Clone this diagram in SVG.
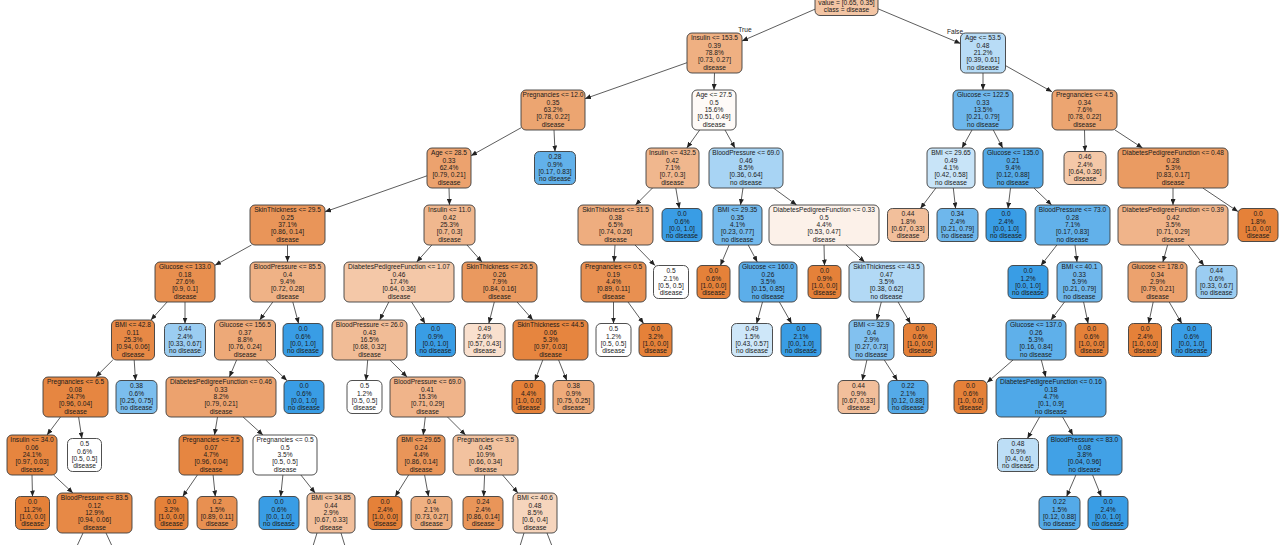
<svg xmlns="http://www.w3.org/2000/svg" width="1280" height="545" viewBox="0 0 1280 545">
<style>
text{font-family:"Liberation Sans",Arial,sans-serif;font-size:6.6px;fill:#1a1a1a;text-anchor:middle}
.nd rect{stroke:#3c3c3c;stroke-width:0.9;rx:5px;ry:5px}
#edges line{stroke:#333;stroke-width:0.8;marker-end:url(#ah)}
#edges line.stub{marker-end:none}
.lbl{font-size:6.6px}
</style>
<defs>
<marker id="ah" markerWidth="6" markerHeight="5" refX="6" refY="2.5" orient="auto" markerUnits="userSpaceOnUse"><path d="M0,0L6,2.5L0,5z" fill="#222"/></marker>
</defs>
<rect width="1280" height="545" fill="#fff"/>
<g id="edges">
<line x1="815" y1="9.2" x2="742" y2="41"/>
<line x1="878" y1="8.8" x2="960.5" y2="43.5"/>
<line x1="687" y1="62.7" x2="585" y2="98.7"/>
<line x1="714.5" y1="73" x2="714" y2="90"/>
<line x1="983" y1="73" x2="983" y2="90"/>
<line x1="1005.5" y1="65.6" x2="1052" y2="91.8"/>
<line x1="521" y1="127.8" x2="471" y2="155.7"/>
<line x1="554" y1="130" x2="555" y2="151.5"/>
<line x1="699.7" y1="130" x2="686.8" y2="148"/>
<line x1="725" y1="130" x2="735" y2="148"/>
<line x1="972" y1="130" x2="962" y2="148"/>
<line x1="993.3" y1="130" x2="1002.7" y2="148"/>
<line x1="1084.5" y1="130" x2="1085" y2="151.5"/>
<line x1="1115" y1="130" x2="1142.5" y2="148"/>
<line x1="427" y1="175.8" x2="325" y2="211.8"/>
<line x1="449" y1="188" x2="449.5" y2="205"/>
<line x1="652.5" y1="188" x2="635.5" y2="205"/>
<line x1="675.8" y1="188" x2="679.3" y2="208.5"/>
<line x1="743" y1="188" x2="740.5" y2="205"/>
<line x1="773.4" y1="188" x2="796.6" y2="205"/>
<line x1="935.9" y1="188" x2="920.4" y2="208.5"/>
<line x1="953.3" y1="188" x2="955.6" y2="208.5"/>
<line x1="1010.5" y1="188" x2="1008" y2="208.5"/>
<line x1="1033.9" y1="188" x2="1051.6" y2="205"/>
<line x1="1173" y1="188" x2="1173" y2="205"/>
<line x1="1202.8" y1="188" x2="1238" y2="211.6"/>
<line x1="251.5" y1="245" x2="215" y2="265.3"/>
<line x1="287.5" y1="245" x2="287.5" y2="262"/>
<line x1="431.8" y1="245" x2="416.7" y2="262"/>
<line x1="467" y1="245" x2="482" y2="262"/>
<line x1="615" y1="245" x2="614" y2="262"/>
<line x1="635" y1="245" x2="655" y2="265.5"/>
<line x1="729.1" y1="245" x2="720.4" y2="265.5"/>
<line x1="748.2" y1="245" x2="757.3" y2="262"/>
<line x1="824" y1="245" x2="824.5" y2="265.5"/>
<line x1="845.9" y1="245" x2="864.6" y2="262"/>
<line x1="1056.9" y1="245" x2="1040.9" y2="265.5"/>
<line x1="1075" y1="245" x2="1077" y2="262"/>
<line x1="1167.6" y1="245" x2="1162.9" y2="262"/>
<line x1="1188.3" y1="245" x2="1203.9" y2="265.5"/>
<line x1="167.1" y1="302" x2="150.9" y2="320"/>
<line x1="185" y1="302" x2="185" y2="323.5"/>
<line x1="272.8" y1="302" x2="259.7" y2="320"/>
<line x1="292.8" y1="302" x2="298.6" y2="323.5"/>
<line x1="388.8" y1="302" x2="379.7" y2="320"/>
<line x1="411.6" y1="302" x2="425.1" y2="323.5"/>
<line x1="494.3" y1="302" x2="488.8" y2="323.5"/>
<line x1="517.1" y1="302" x2="532.9" y2="320"/>
<line x1="613.5" y1="302" x2="613.5" y2="323.5"/>
<line x1="628" y1="302" x2="643.6" y2="323.5"/>
<line x1="762.5" y1="302" x2="756.6" y2="323.5"/>
<line x1="779.4" y1="302" x2="791.6" y2="323.5"/>
<line x1="881.3" y1="302" x2="876.7" y2="320"/>
<line x1="898.1" y1="302" x2="910.5" y2="323.5"/>
<line x1="1064.5" y1="302" x2="1051" y2="320"/>
<line x1="1083.6" y1="302" x2="1088.1" y2="323.5"/>
<line x1="1153.2" y1="302" x2="1148.6" y2="323.5"/>
<line x1="1169.2" y1="302" x2="1181.8" y2="323.5"/>
<line x1="112.8" y1="360" x2="95.7" y2="377"/>
<line x1="134.2" y1="360" x2="135.5" y2="380.5"/>
<line x1="236.6" y1="360" x2="229.4" y2="377"/>
<line x1="265.7" y1="360" x2="286.9" y2="380.5"/>
<line x1="367.7" y1="360" x2="366" y2="380.5"/>
<line x1="389.9" y1="360" x2="407.1" y2="377"/>
<line x1="542.8" y1="360" x2="534.9" y2="380.5"/>
<line x1="558.6" y1="360" x2="566.8" y2="380.5"/>
<line x1="866.9" y1="360" x2="862.3" y2="380.5"/>
<line x1="884.3" y1="360" x2="897.4" y2="380.5"/>
<line x1="1013" y1="360" x2="987" y2="382.6"/>
<line x1="1041.3" y1="360" x2="1045.7" y2="377"/>
<line x1="60.5" y1="417" x2="47" y2="435"/>
<line x1="78.6" y1="417" x2="81.9" y2="438.5"/>
<line x1="217.5" y1="417" x2="214.5" y2="435"/>
<line x1="243.1" y1="417" x2="262.9" y2="435"/>
<line x1="425.3" y1="417" x2="423.2" y2="435"/>
<line x1="447.5" y1="417" x2="465.5" y2="435"/>
<line x1="1039.6" y1="417" x2="1027.4" y2="438.5"/>
<line x1="1062.6" y1="417" x2="1072.9" y2="435"/>
<line x1="32" y1="475" x2="32.5" y2="496.5"/>
<line x1="53.6" y1="475" x2="72.9" y2="493"/>
<line x1="197.4" y1="475" x2="182.7" y2="496.5"/>
<line x1="213.1" y1="475" x2="215.3" y2="496.5"/>
<line x1="282.9" y1="475" x2="280.7" y2="496.5"/>
<line x1="300.9" y1="475" x2="315.1" y2="493"/>
<line x1="408.6" y1="475" x2="395.2" y2="496.5"/>
<line x1="424.6" y1="475" x2="428.5" y2="496.5"/>
<line x1="484.6" y1="475" x2="483.7" y2="496.5"/>
<line x1="502.6" y1="475" x2="517.9" y2="493"/>
<line x1="1075.9" y1="475" x2="1066.6" y2="496.5"/>
<line x1="1092.6" y1="475" x2="1101.3" y2="496.5"/>
<line class="stub" x1="83" y1="533" x2="77" y2="546"/>
<line class="stub" x1="106" y1="533" x2="112" y2="546"/>
<line class="stub" x1="317" y1="533" x2="313" y2="546"/>
<line class="stub" x1="341" y1="533" x2="345" y2="546"/>
<line class="stub" x1="524" y1="533" x2="520" y2="546"/>
<line class="stub" x1="547" y1="533" x2="552" y2="546"/>
<text class="lbl" x="745" y="31.5">True</text>
<text class="lbl" x="955" y="34">False</text>
</g>
<g id="n0" class="nd"><rect x="815" y="-24.5" width="63" height="40" fill="#f3c5a4"/><text x="846.5" y="4.8">value = [0.65, 0.35]</text><text x="846.5" y="12.1">class = disease</text></g>
<g id="n1" class="nd"><rect x="687" y="33" width="55" height="40" fill="#efb082"/><text x="714.5" y="40.4">Insulin &lt;= 153.5</text><text x="714.5" y="47.7">0.39</text><text x="714.5" y="55">78.8%</text><text x="714.5" y="62.3">[0.73, 0.27]</text><text x="714.5" y="69.6">disease</text></g>
<g id="n2" class="nd"><rect x="960.5" y="33" width="45" height="40" fill="#b8dcf6"/><text x="983" y="40.4">Age &lt;= 53.5</text><text x="983" y="47.7">0.48</text><text x="983" y="55">21.2%</text><text x="983" y="62.3">[0.39, 0.61]</text><text x="983" y="69.6">no disease</text></g>
<g id="n3" class="nd"><rect x="521" y="90" width="64" height="40" fill="#eca571"/><text x="553" y="97.4">Pregnancies &lt;= 12.0</text><text x="553" y="104.7">0.35</text><text x="553" y="112">63.2%</text><text x="553" y="119.3">[0.78, 0.22]</text><text x="553" y="126.6">disease</text></g>
<g id="n4" class="nd"><rect x="692" y="90" width="44" height="40" fill="#fefaf7"/><text x="714" y="97.4">Age &lt;= 27.5</text><text x="714" y="104.7">0.5</text><text x="714" y="112">15.6%</text><text x="714" y="119.3">[0.51, 0.49]</text><text x="714" y="126.6">disease</text></g>
<g id="n5" class="nd"><rect x="953" y="90" width="60" height="40" fill="#6eb7ec"/><text x="983" y="97.4">Glucose &lt;= 122.5</text><text x="983" y="104.7">0.33</text><text x="983" y="112">13.5%</text><text x="983" y="119.3">[0.21, 0.79]</text><text x="983" y="126.6">no disease</text></g>
<g id="n6" class="nd"><rect x="1052" y="90" width="65" height="40" fill="#eca571"/><text x="1084.5" y="97.4">Pregnancies &lt;= 4.5</text><text x="1084.5" y="104.7">0.34</text><text x="1084.5" y="112">7.6%</text><text x="1084.5" y="119.3">[0.78, 0.22]</text><text x="1084.5" y="126.6">disease</text></g>
<g id="n7" class="nd"><rect x="427" y="148" width="44" height="40" fill="#eca26e"/><text x="449" y="155.4">Age &lt;= 28.5</text><text x="449" y="162.7">0.33</text><text x="449" y="170">62.4%</text><text x="449" y="177.3">[0.79, 0.21]</text><text x="449" y="184.6">disease</text></g>
<g id="n8" class="nd"><rect x="534.5" y="151.5" width="41" height="33" fill="#62b1ea"/><text x="555" y="159.4">0.28</text><text x="555" y="166.7">0.9%</text><text x="555" y="174">[0.17, 0.83]</text><text x="555" y="181.3">no disease</text></g>
<g id="n9" class="nd"><rect x="646" y="148" width="53" height="40" fill="#f0b78e"/><text x="672.5" y="155.4">Insulin &lt;= 432.5</text><text x="672.5" y="162.7">0.42</text><text x="672.5" y="170">7.1%</text><text x="672.5" y="177.3">[0.7, 0.3]</text><text x="672.5" y="184.6">disease</text></g>
<g id="n10" class="nd"><rect x="709" y="148" width="74" height="40" fill="#a8d4f4"/><text x="746" y="155.4">BloodPressure &lt;= 69.0</text><text x="746" y="162.7">0.46</text><text x="746" y="170">8.5%</text><text x="746" y="177.3">[0.36, 0.64]</text><text x="746" y="184.6">no disease</text></g>
<g id="n11" class="nd"><rect x="927" y="148" width="48" height="40" fill="#c8e4f8"/><text x="951" y="155.4">BMI &lt;= 29.65</text><text x="951" y="162.7">0.49</text><text x="951" y="170">4.1%</text><text x="951" y="177.3">[0.42, 0.58]</text><text x="951" y="184.6">no disease</text></g>
<g id="n12" class="nd"><rect x="983" y="148" width="60" height="40" fill="#54aae8"/><text x="1013" y="155.4">Glucose &lt;= 135.0</text><text x="1013" y="162.7">0.21</text><text x="1013" y="170">9.4%</text><text x="1013" y="177.3">[0.12, 0.88]</text><text x="1013" y="184.6">no disease</text></g>
<g id="n13" class="nd"><rect x="1064" y="151.5" width="42" height="33" fill="#f4c8a8"/><text x="1085" y="159.4">0.46</text><text x="1085" y="166.7">2.4%</text><text x="1085" y="174">[0.64, 0.36]</text><text x="1085" y="181.3">disease</text></g>
<g id="n14" class="nd"><rect x="1118" y="148" width="110" height="40" fill="#ea9b62"/><text x="1173" y="155.4">DiabetesPedigreeFunction &lt;= 0.48</text><text x="1173" y="162.7">0.28</text><text x="1173" y="170">5.3%</text><text x="1173" y="177.3">[0.83, 0.17]</text><text x="1173" y="184.6">disease</text></g>
<g id="n15" class="nd"><rect x="250" y="205" width="75" height="40" fill="#e99559"/><text x="287.5" y="212.4">SkinThickness &lt;= 29.5</text><text x="287.5" y="219.7">0.25</text><text x="287.5" y="227">37.1%</text><text x="287.5" y="234.3">[0.86, 0.14]</text><text x="287.5" y="241.6">disease</text></g>
<g id="n16" class="nd"><rect x="424" y="205" width="51" height="40" fill="#f0b78e"/><text x="449.5" y="212.4">Insulin &lt;= 11.0</text><text x="449.5" y="219.7">0.42</text><text x="449.5" y="227">25.3%</text><text x="449.5" y="234.3">[0.7, 0.3]</text><text x="449.5" y="241.6">disease</text></g>
<g id="n17" class="nd"><rect x="578" y="205" width="75" height="40" fill="#eead7f"/><text x="615.5" y="212.4">SkinThickness &lt;= 31.5</text><text x="615.5" y="219.7">0.38</text><text x="615.5" y="227">6.5%</text><text x="615.5" y="234.3">[0.74, 0.26]</text><text x="615.5" y="241.6">disease</text></g>
<g id="n18" class="nd"><rect x="662" y="208.5" width="40" height="33" fill="#399de5"/><text x="682" y="216.4">0.0</text><text x="682" y="223.7">0.6%</text><text x="682" y="231">[0.0, 1.0]</text><text x="682" y="238.3">no disease</text></g>
<g id="n19" class="nd"><rect x="713" y="205" width="49" height="40" fill="#74baed"/><text x="737.5" y="212.4">BMI &lt;= 29.35</text><text x="737.5" y="219.7">0.35</text><text x="737.5" y="227">4.1%</text><text x="737.5" y="234.3">[0.23, 0.77]</text><text x="737.5" y="241.6">no disease</text></g>
<g id="n20" class="nd"><rect x="769" y="205" width="110" height="40" fill="#fcf1e9"/><text x="824" y="212.4">DiabetesPedigreeFunction &lt;= 0.33</text><text x="824" y="219.7">0.5</text><text x="824" y="227">4.4%</text><text x="824" y="234.3">[0.53, 0.47]</text><text x="824" y="241.6">disease</text></g>
<g id="n21" class="nd"><rect x="887.5" y="208.5" width="41" height="33" fill="#f2bf9b"/><text x="908" y="216.4">0.44</text><text x="908" y="223.7">1.8%</text><text x="908" y="231">[0.67, 0.33]</text><text x="908" y="238.3">disease</text></g>
<g id="n22" class="nd"><rect x="937" y="208.5" width="41" height="33" fill="#6eb7ec"/><text x="957.5" y="216.4">0.34</text><text x="957.5" y="223.7">2.4%</text><text x="957.5" y="231">[0.21, 0.79]</text><text x="957.5" y="238.3">no disease</text></g>
<g id="n23" class="nd"><rect x="986" y="208.5" width="40" height="33" fill="#399de5"/><text x="1006" y="216.4">0.0</text><text x="1006" y="223.7">2.4%</text><text x="1006" y="231">[0.0, 1.0]</text><text x="1006" y="238.3">no disease</text></g>
<g id="n24" class="nd"><rect x="1035" y="205" width="75" height="40" fill="#62b1ea"/><text x="1072.5" y="212.4">BloodPressure &lt;= 73.0</text><text x="1072.5" y="219.7">0.28</text><text x="1072.5" y="227">7.1%</text><text x="1072.5" y="234.3">[0.17, 0.83]</text><text x="1072.5" y="241.6">no disease</text></g>
<g id="n25" class="nd"><rect x="1118" y="205" width="110" height="40" fill="#f0b48a"/><text x="1173" y="212.4">DiabetesPedigreeFunction &lt;= 0.39</text><text x="1173" y="219.7">0.42</text><text x="1173" y="227">3.5%</text><text x="1173" y="234.3">[0.71, 0.29]</text><text x="1173" y="241.6">disease</text></g>
<g id="n26" class="nd"><rect x="1238" y="208.5" width="40" height="33" fill="#e58139"/><text x="1258" y="216.4">0.0</text><text x="1258" y="223.7">1.8%</text><text x="1258" y="231">[1.0, 0.0]</text><text x="1258" y="238.3">disease</text></g>
<g id="n27" class="nd"><rect x="155" y="262" width="60" height="40" fill="#e88f4f"/><text x="185" y="269.4">Glucose &lt;= 133.0</text><text x="185" y="276.7">0.18</text><text x="185" y="284">27.6%</text><text x="185" y="291.3">[0.9, 0.1]</text><text x="185" y="298.6">disease</text></g>
<g id="n28" class="nd"><rect x="250" y="262" width="75" height="40" fill="#efb286"/><text x="287.5" y="269.4">BloodPressure &lt;= 85.5</text><text x="287.5" y="276.7">0.4</text><text x="287.5" y="284">9.4%</text><text x="287.5" y="291.3">[0.72, 0.28]</text><text x="287.5" y="298.6">disease</text></g>
<g id="n29" class="nd"><rect x="344" y="262" width="110" height="40" fill="#f4c8a8"/><text x="399" y="269.4">DiabetesPedigreeFunction &lt;= 1.07</text><text x="399" y="276.7">0.46</text><text x="399" y="284">17.4%</text><text x="399" y="291.3">[0.64, 0.36]</text><text x="399" y="298.6">disease</text></g>
<g id="n30" class="nd"><rect x="462" y="262" width="75" height="40" fill="#ea995f"/><text x="499.5" y="269.4">SkinThickness &lt;= 26.5</text><text x="499.5" y="276.7">0.26</text><text x="499.5" y="284">7.9%</text><text x="499.5" y="291.3">[0.84, 0.16]</text><text x="499.5" y="298.6">disease</text></g>
<g id="n31" class="nd"><rect x="581" y="262" width="65" height="40" fill="#e89051"/><text x="613.5" y="269.4">Pregnancies &lt;= 0.5</text><text x="613.5" y="276.7">0.19</text><text x="613.5" y="284">4.4%</text><text x="613.5" y="291.3">[0.89, 0.11]</text><text x="613.5" y="298.6">disease</text></g>
<g id="n32" class="nd"><rect x="653.5" y="265.5" width="35" height="33" fill="#ffffff"/><text x="671" y="273.4">0.5</text><text x="671" y="280.7">2.1%</text><text x="671" y="288">[0.5, 0.5]</text><text x="671" y="295.3">disease</text></g>
<g id="n33" class="nd"><rect x="697" y="265.5" width="33" height="33" fill="#e58139"/><text x="713.5" y="273.4">0.0</text><text x="713.5" y="280.7">0.6%</text><text x="713.5" y="288">[1.0, 0.0]</text><text x="713.5" y="295.3">disease</text></g>
<g id="n34" class="nd"><rect x="739" y="262" width="58" height="40" fill="#5caeea"/><text x="768" y="269.4">Glucose &lt;= 160.0</text><text x="768" y="276.7">0.26</text><text x="768" y="284">3.5%</text><text x="768" y="291.3">[0.15, 0.85]</text><text x="768" y="298.6">no disease</text></g>
<g id="n35" class="nd"><rect x="808" y="265.5" width="33" height="33" fill="#e58139"/><text x="824.5" y="273.4">0.0</text><text x="824.5" y="280.7">0.9%</text><text x="824.5" y="288">[1.0, 0.0]</text><text x="824.5" y="295.3">disease</text></g>
<g id="n36" class="nd"><rect x="849" y="262" width="75" height="40" fill="#b2d9f5"/><text x="886.5" y="269.4">SkinThickness &lt;= 43.5</text><text x="886.5" y="276.7">0.47</text><text x="886.5" y="284">3.5%</text><text x="886.5" y="291.3">[0.38, 0.62]</text><text x="886.5" y="298.6">no disease</text></g>
<g id="n37" class="nd"><rect x="1008" y="265.5" width="40" height="33" fill="#399de5"/><text x="1028" y="273.4">0.0</text><text x="1028" y="280.7">1.2%</text><text x="1028" y="288">[0.0, 1.0]</text><text x="1028" y="295.3">no disease</text></g>
<g id="n38" class="nd"><rect x="1057" y="262" width="45" height="40" fill="#6eb7ec"/><text x="1079.5" y="269.4">BMI &lt;= 40.1</text><text x="1079.5" y="276.7">0.33</text><text x="1079.5" y="284">5.9%</text><text x="1079.5" y="291.3">[0.21, 0.79]</text><text x="1079.5" y="298.6">no disease</text></g>
<g id="n39" class="nd"><rect x="1128" y="262" width="59" height="40" fill="#eca26e"/><text x="1157.5" y="269.4">Glucose &lt;= 178.0</text><text x="1157.5" y="276.7">0.34</text><text x="1157.5" y="284">2.9%</text><text x="1157.5" y="291.3">[0.79, 0.21]</text><text x="1157.5" y="298.6">disease</text></g>
<g id="n40" class="nd"><rect x="1196" y="265.5" width="41" height="33" fill="#9bcdf2"/><text x="1216.5" y="273.4">0.44</text><text x="1216.5" y="280.7">0.6%</text><text x="1216.5" y="288">[0.33, 0.67]</text><text x="1216.5" y="295.3">no disease</text></g>
<g id="n41" class="nd"><rect x="111.5" y="320" width="43" height="40" fill="#e78946"/><text x="133" y="327.4">BMI &lt;= 42.8</text><text x="133" y="334.7">0.11</text><text x="133" y="342">25.3%</text><text x="133" y="349.3">[0.94, 0.06]</text><text x="133" y="356.6">disease</text></g>
<g id="n42" class="nd"><rect x="164.5" y="323.5" width="41" height="33" fill="#9bcdf2"/><text x="185" y="331.4">0.44</text><text x="185" y="338.7">2.4%</text><text x="185" y="346">[0.33, 0.67]</text><text x="185" y="353.3">no disease</text></g>
<g id="n43" class="nd"><rect x="214.5" y="320" width="61" height="40" fill="#eda978"/><text x="245" y="327.4">Glucose &lt;= 156.5</text><text x="245" y="334.7">0.37</text><text x="245" y="342">8.8%</text><text x="245" y="349.3">[0.76, 0.24]</text><text x="245" y="356.6">disease</text></g>
<g id="n44" class="nd"><rect x="283" y="323.5" width="40" height="33" fill="#399de5"/><text x="303" y="331.4">0.0</text><text x="303" y="338.7">0.6%</text><text x="303" y="346">[0.0, 1.0]</text><text x="303" y="353.3">no disease</text></g>
<g id="n45" class="nd"><rect x="332" y="320" width="75" height="40" fill="#f1bc96"/><text x="369.5" y="327.4">BloodPressure &lt;= 26.0</text><text x="369.5" y="334.7">0.43</text><text x="369.5" y="342">16.5%</text><text x="369.5" y="349.3">[0.68, 0.32]</text><text x="369.5" y="356.6">disease</text></g>
<g id="n46" class="nd"><rect x="415.5" y="323.5" width="40" height="33" fill="#399de5"/><text x="435.5" y="331.4">0.0</text><text x="435.5" y="338.7">0.9%</text><text x="435.5" y="346">[0.0, 1.0]</text><text x="435.5" y="353.3">no disease</text></g>
<g id="n47" class="nd"><rect x="464" y="323.5" width="41" height="33" fill="#f9e0ce"/><text x="484.5" y="331.4">0.49</text><text x="484.5" y="338.7">2.6%</text><text x="484.5" y="346">[0.57, 0.43]</text><text x="484.5" y="353.3">disease</text></g>
<g id="n48" class="nd"><rect x="513" y="320" width="75" height="40" fill="#e6853f"/><text x="550.5" y="327.4">SkinThickness &lt;= 44.5</text><text x="550.5" y="334.7">0.06</text><text x="550.5" y="342">5.3%</text><text x="550.5" y="349.3">[0.97, 0.03]</text><text x="550.5" y="356.6">disease</text></g>
<g id="n49" class="nd"><rect x="596" y="323.5" width="35" height="33" fill="#ffffff"/><text x="613.5" y="331.4">0.5</text><text x="613.5" y="338.7">1.2%</text><text x="613.5" y="346">[0.5, 0.5]</text><text x="613.5" y="353.3">disease</text></g>
<g id="n50" class="nd"><rect x="639" y="323.5" width="33" height="33" fill="#e58139"/><text x="655.5" y="331.4">0.0</text><text x="655.5" y="338.7">3.2%</text><text x="655.5" y="346">[1.0, 0.0]</text><text x="655.5" y="353.3">disease</text></g>
<g id="n51" class="nd"><rect x="731.5" y="323.5" width="41" height="33" fill="#cee7f9"/><text x="752" y="331.4">0.49</text><text x="752" y="338.7">1.5%</text><text x="752" y="346">[0.43, 0.57]</text><text x="752" y="353.3">no disease</text></g>
<g id="n52" class="nd"><rect x="781" y="323.5" width="40" height="33" fill="#399de5"/><text x="801" y="331.4">0.0</text><text x="801" y="338.7">2.1%</text><text x="801" y="346">[0.0, 1.0]</text><text x="801" y="353.3">no disease</text></g>
<g id="n53" class="nd"><rect x="849" y="320" width="45" height="40" fill="#82c1ef"/><text x="871.5" y="327.4">BMI &lt;= 32.9</text><text x="871.5" y="334.7">0.4</text><text x="871.5" y="342">2.9%</text><text x="871.5" y="349.3">[0.27, 0.73]</text><text x="871.5" y="356.6">no disease</text></g>
<g id="n54" class="nd"><rect x="903.5" y="323.5" width="33" height="33" fill="#e58139"/><text x="920" y="331.4">0.0</text><text x="920" y="338.7">0.6%</text><text x="920" y="346">[1.0, 0.0]</text><text x="920" y="353.3">disease</text></g>
<g id="n55" class="nd"><rect x="1006" y="320" width="60" height="40" fill="#5fb0ea"/><text x="1036" y="327.4">Glucose &lt;= 137.0</text><text x="1036" y="334.7">0.26</text><text x="1036" y="342">5.3%</text><text x="1036" y="349.3">[0.16, 0.84]</text><text x="1036" y="356.6">no disease</text></g>
<g id="n56" class="nd"><rect x="1075" y="323.5" width="33" height="33" fill="#e58139"/><text x="1091.5" y="331.4">0.0</text><text x="1091.5" y="338.7">0.6%</text><text x="1091.5" y="346">[1.0, 0.0]</text><text x="1091.5" y="353.3">disease</text></g>
<g id="n57" class="nd"><rect x="1128.5" y="323.5" width="33" height="33" fill="#e58139"/><text x="1145" y="331.4">0.0</text><text x="1145" y="338.7">2.4%</text><text x="1145" y="346">[1.0, 0.0]</text><text x="1145" y="353.3">disease</text></g>
<g id="n58" class="nd"><rect x="1171.5" y="323.5" width="40" height="33" fill="#399de5"/><text x="1191.5" y="331.4">0.0</text><text x="1191.5" y="338.7">0.6%</text><text x="1191.5" y="346">[0.0, 1.0]</text><text x="1191.5" y="353.3">no disease</text></g>
<g id="n59" class="nd"><rect x="43" y="377" width="65" height="40" fill="#e68641"/><text x="75.5" y="384.4">Pregnancies &lt;= 6.5</text><text x="75.5" y="391.7">0.08</text><text x="75.5" y="399">24.7%</text><text x="75.5" y="406.3">[0.96, 0.04]</text><text x="75.5" y="413.6">disease</text></g>
<g id="n60" class="nd"><rect x="116" y="380.5" width="41" height="33" fill="#7bbeee"/><text x="136.5" y="388.4">0.38</text><text x="136.5" y="395.7">0.6%</text><text x="136.5" y="403">[0.25, 0.75]</text><text x="136.5" y="410.3">no disease</text></g>
<g id="n61" class="nd"><rect x="166" y="377" width="110" height="40" fill="#eca26e"/><text x="221" y="384.4">DiabetesPedigreeFunction &lt;= 0.46</text><text x="221" y="391.7">0.33</text><text x="221" y="399">8.2%</text><text x="221" y="406.3">[0.79, 0.21]</text><text x="221" y="413.6">disease</text></g>
<g id="n62" class="nd"><rect x="284" y="380.5" width="40" height="33" fill="#399de5"/><text x="304" y="388.4">0.0</text><text x="304" y="395.7">0.6%</text><text x="304" y="403">[0.0, 1.0]</text><text x="304" y="410.3">no disease</text></g>
<g id="n63" class="nd"><rect x="347" y="380.5" width="35" height="33" fill="#ffffff"/><text x="364.5" y="388.4">0.5</text><text x="364.5" y="395.7">1.2%</text><text x="364.5" y="403">[0.5, 0.5]</text><text x="364.5" y="410.3">disease</text></g>
<g id="n64" class="nd"><rect x="390" y="377" width="75" height="40" fill="#f0b48a"/><text x="427.5" y="384.4">BloodPressure &lt;= 69.0</text><text x="427.5" y="391.7">0.41</text><text x="427.5" y="399">15.3%</text><text x="427.5" y="406.3">[0.71, 0.29]</text><text x="427.5" y="413.6">disease</text></g>
<g id="n65" class="nd"><rect x="512" y="380.5" width="33" height="33" fill="#e58139"/><text x="528.5" y="388.4">0.0</text><text x="528.5" y="395.7">4.4%</text><text x="528.5" y="403">[1.0, 0.0]</text><text x="528.5" y="410.3">disease</text></g>
<g id="n66" class="nd"><rect x="553" y="380.5" width="41" height="33" fill="#eeab7b"/><text x="573.5" y="388.4">0.38</text><text x="573.5" y="395.7">0.9%</text><text x="573.5" y="403">[0.75, 0.25]</text><text x="573.5" y="410.3">disease</text></g>
<g id="n67" class="nd"><rect x="838" y="380.5" width="41" height="33" fill="#f2bf9b"/><text x="858.5" y="388.4">0.44</text><text x="858.5" y="395.7">0.9%</text><text x="858.5" y="403">[0.67, 0.33]</text><text x="858.5" y="410.3">disease</text></g>
<g id="n68" class="nd"><rect x="888" y="380.5" width="40" height="33" fill="#54aae8"/><text x="908" y="388.4">0.22</text><text x="908" y="395.7">2.1%</text><text x="908" y="403">[0.12, 0.88]</text><text x="908" y="410.3">no disease</text></g>
<g id="n69" class="nd"><rect x="954" y="380.5" width="33" height="33" fill="#e58139"/><text x="970.5" y="388.4">0.0</text><text x="970.5" y="395.7">0.6%</text><text x="970.5" y="403">[1.0, 0.0]</text><text x="970.5" y="410.3">disease</text></g>
<g id="n70" class="nd"><rect x="996" y="377" width="110" height="40" fill="#4fa8e8"/><text x="1051" y="384.4">DiabetesPedigreeFunction &lt;= 0.16</text><text x="1051" y="391.7">0.18</text><text x="1051" y="399">4.7%</text><text x="1051" y="406.3">[0.1, 0.9]</text><text x="1051" y="413.6">no disease</text></g>
<g id="n71" class="nd"><rect x="7" y="435" width="50" height="40" fill="#e6853f"/><text x="32" y="442.4">Insulin &lt;= 34.0</text><text x="32" y="449.7">0.06</text><text x="32" y="457">24.1%</text><text x="32" y="464.3">[0.97, 0.03]</text><text x="32" y="471.6">disease</text></g>
<g id="n72" class="nd"><rect x="67.5" y="438.5" width="34" height="33" fill="#ffffff"/><text x="84.5" y="446.4">0.5</text><text x="84.5" y="453.7">0.6%</text><text x="84.5" y="461">[0.5, 0.5]</text><text x="84.5" y="468.3">disease</text></g>
<g id="n73" class="nd"><rect x="179" y="435" width="64" height="40" fill="#e68641"/><text x="211" y="442.4">Pregnancies &lt;= 2.5</text><text x="211" y="449.7">0.07</text><text x="211" y="457">4.7%</text><text x="211" y="464.3">[0.96, 0.04]</text><text x="211" y="471.6">disease</text></g>
<g id="n74" class="nd"><rect x="253" y="435" width="64" height="40" fill="#ffffff"/><text x="285" y="442.4">Pregnancies &lt;= 0.5</text><text x="285" y="449.7">0.5</text><text x="285" y="457">3.5%</text><text x="285" y="464.3">[0.5, 0.5]</text><text x="285" y="471.6">disease</text></g>
<g id="n75" class="nd"><rect x="397" y="435" width="48" height="40" fill="#e99559"/><text x="421" y="442.4">BMI &lt;= 29.65</text><text x="421" y="449.7">0.24</text><text x="421" y="457">4.4%</text><text x="421" y="464.3">[0.86, 0.14]</text><text x="421" y="471.6">disease</text></g>
<g id="n76" class="nd"><rect x="453" y="435" width="65" height="40" fill="#f2c29f"/><text x="485.5" y="442.4">Pregnancies &lt;= 3.5</text><text x="485.5" y="449.7">0.45</text><text x="485.5" y="457">10.9%</text><text x="485.5" y="464.3">[0.66, 0.34]</text><text x="485.5" y="471.6">disease</text></g>
<g id="n77" class="nd"><rect x="997.5" y="438.5" width="41" height="33" fill="#bddef6"/><text x="1018" y="446.4">0.48</text><text x="1018" y="453.7">0.9%</text><text x="1018" y="461">[0.4, 0.6]</text><text x="1018" y="468.3">no disease</text></g>
<g id="n78" class="nd"><rect x="1047" y="435" width="75" height="40" fill="#41a1e6"/><text x="1084.5" y="442.4">BloodPressure &lt;= 83.0</text><text x="1084.5" y="449.7">0.08</text><text x="1084.5" y="457">3.8%</text><text x="1084.5" y="464.3">[0.04, 0.96]</text><text x="1084.5" y="471.6">no disease</text></g>
<g id="n79" class="nd"><rect x="15.5" y="496.5" width="34" height="33" fill="#e58139"/><text x="32.5" y="504.4">0.0</text><text x="32.5" y="511.7">11.2%</text><text x="32.5" y="519">[1.0, 0.0]</text><text x="32.5" y="526.3">disease</text></g>
<g id="n80" class="nd"><rect x="57" y="493" width="75" height="40" fill="#e78946"/><text x="94.5" y="500.4">BloodPressure &lt;= 83.5</text><text x="94.5" y="507.7">0.12</text><text x="94.5" y="515">12.9%</text><text x="94.5" y="522.3">[0.94, 0.06]</text><text x="94.5" y="529.6">disease</text></g>
<g id="n81" class="nd"><rect x="155" y="496.5" width="33" height="33" fill="#e58139"/><text x="171.5" y="504.4">0.0</text><text x="171.5" y="511.7">3.2%</text><text x="171.5" y="519">[1.0, 0.0]</text><text x="171.5" y="526.3">disease</text></g>
<g id="n82" class="nd"><rect x="197" y="496.5" width="40" height="33" fill="#e89051"/><text x="217" y="504.4">0.2</text><text x="217" y="511.7">1.5%</text><text x="217" y="519">[0.89, 0.11]</text><text x="217" y="526.3">disease</text></g>
<g id="n83" class="nd"><rect x="259" y="496.5" width="40" height="33" fill="#399de5"/><text x="279" y="504.4">0.0</text><text x="279" y="511.7">0.6%</text><text x="279" y="519">[0.0, 1.0]</text><text x="279" y="526.3">no disease</text></g>
<g id="n84" class="nd"><rect x="307" y="493" width="48" height="40" fill="#f2bf9b"/><text x="331" y="500.4">BMI &lt;= 34.85</text><text x="331" y="507.7">0.44</text><text x="331" y="515">2.9%</text><text x="331" y="522.3">[0.67, 0.33]</text><text x="331" y="529.6">disease</text></g>
<g id="n85" class="nd"><rect x="368" y="496.5" width="34" height="33" fill="#e58139"/><text x="385" y="504.4">0.0</text><text x="385" y="511.7">2.4%</text><text x="385" y="519">[1.0, 0.0]</text><text x="385" y="526.3">disease</text></g>
<g id="n86" class="nd"><rect x="411" y="496.5" width="41" height="33" fill="#efb082"/><text x="431.5" y="504.4">0.4</text><text x="431.5" y="511.7">2.1%</text><text x="431.5" y="519">[0.73, 0.27]</text><text x="431.5" y="526.3">disease</text></g>
<g id="n87" class="nd"><rect x="463" y="496.5" width="40" height="33" fill="#e99559"/><text x="483" y="504.4">0.24</text><text x="483" y="511.7">2.4%</text><text x="483" y="519">[0.86, 0.14]</text><text x="483" y="526.3">disease</text></g>
<g id="n88" class="nd"><rect x="513" y="493" width="44" height="40" fill="#f6d5bd"/><text x="535" y="500.4">BMI &lt;= 40.6</text><text x="535" y="507.7">0.48</text><text x="535" y="515">8.5%</text><text x="535" y="522.3">[0.6, 0.4]</text><text x="535" y="529.6">disease</text></g>
<g id="n89" class="nd"><rect x="1039" y="496.5" width="41" height="33" fill="#54aae8"/><text x="1059.5" y="504.4">0.22</text><text x="1059.5" y="511.7">1.5%</text><text x="1059.5" y="519">[0.12, 0.88]</text><text x="1059.5" y="526.3">no disease</text></g>
<g id="n90" class="nd"><rect x="1088" y="496.5" width="40" height="33" fill="#399de5"/><text x="1108" y="504.4">0.0</text><text x="1108" y="511.7">2.4%</text><text x="1108" y="519">[0.0, 1.0]</text><text x="1108" y="526.3">no disease</text></g>
</svg>
